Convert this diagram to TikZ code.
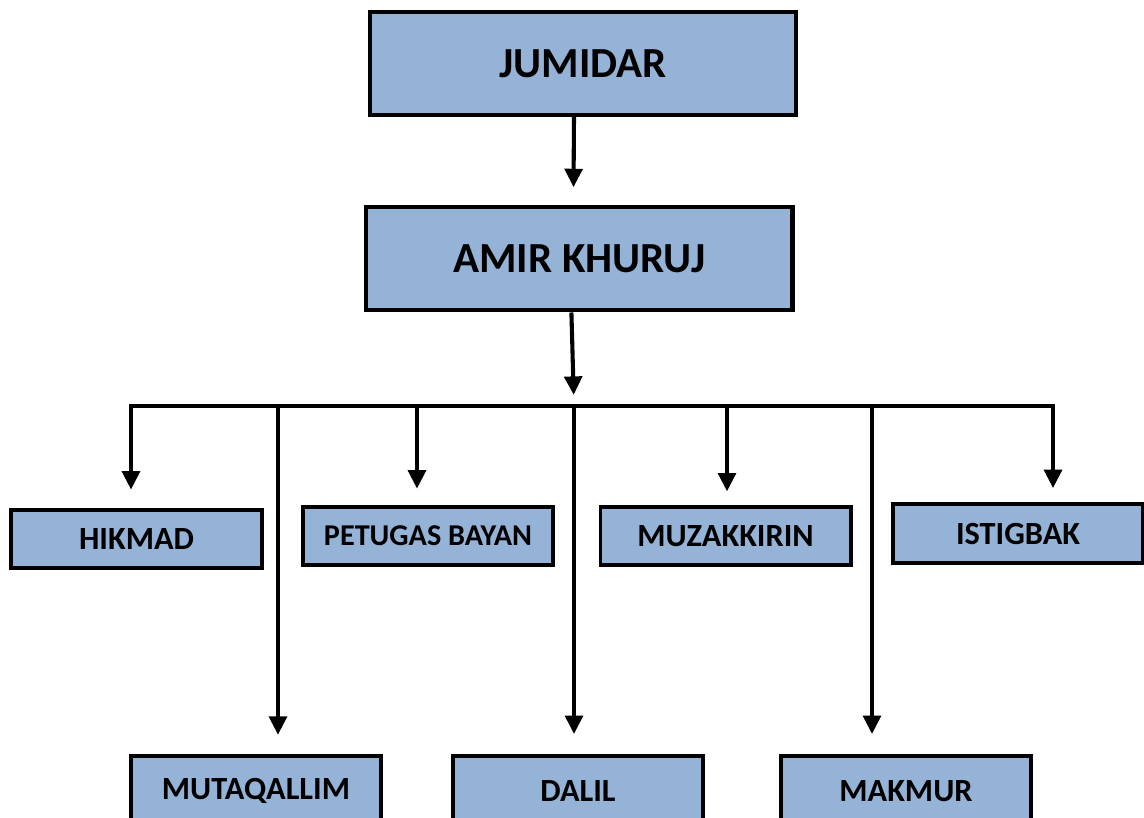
\documentclass[tikz,border=0pt]{standalone}
\usepackage{fontspec}
\setmainfont{Carlito}
\usetikzlibrary{positioning, calc, arrows.meta}
\definecolor{boxblue}{HTML}{95B3D7}
\tikzset{
  % Organisation chart
  headbox/.style = { draw, line width=2.9pt, fill=boxblue, minimum width=10.65cm,
                     minimum height=2.58cm, font=\fontsize{30.5}{34}\selectfont\bfseries },
  unitbox/.style = { draw, line width=2.8pt, fill=boxblue, minimum width=6.25cm,
                     minimum height=1.47cm, font=\fontsize{23}{27}\selectfont\bfseries },
  lowbox/.style  = { unitbox, minimum height=1.75cm },
  orgtip/.tip    = { Triangle[length=4.6mm, width=4.4mm] },
  orgflow/.style = { line width=2.9pt, -{orgtip} },
  orgbar/.style  = { line width=2.9pt }
}
\begin{document}
\begin{tikzpicture}[x=0.025cm, y=-0.025cm]
  \useasboundingbox (0,0) rectangle (1144,817);

  \node[headbox] (jumidar) at (583,63.5) {JUMIDAR};
  \node[headbox, below=2.2cm of jumidar, xshift=-0.09cm] (amir) {AMIR KHURUJ};

  \node[unitbox] (hikmad) at (136.5,539) {HIKMAD};
  \node[unitbox, font=\fontsize{21.5}{25}\selectfont\bfseries] (petugas) at (428,536) {PETUGAS BAYAN};
  \node[unitbox] (muzakkirin) at (725.5,536) {MUZAKKIRIN};
  \node[unitbox] (istigbak) at (1018,533.5) {ISTIGBAK};
  \node[lowbox] (mutaqallim) at (256,791) {MUTAQALLIM};
  \node[lowbox] (dalil) at (578,791) {DALIL};
  \node[lowbox] (makmur) at (906,791) {MAKMUR};

  % branch bar and drop points
  \coordinate (bar) at (574,406);
  \coordinate (dhikmad) at (131,406);
  \coordinate (dmutaqallim) at (278,406);
  \coordinate (dpetugas) at (417,406);
  \coordinate (dmuzakkirin) at (727,406);
  \coordinate (dmakmur) at (872,406);
  \coordinate (distigbak) at (1053,406);

  \draw[orgflow, shorten >=0.45cm] ($(jumidar.south)+(-9,0)$) -- ($(amir.north)+(-6,0)$);
  \draw[orgflow, shorten >=0.28cm] ($(amir.south)+(-8,0)$) -- (bar);

  \draw[orgbar, {orgtip}-{orgtip}, shorten <=0.45cm, shorten >=0.35cm]
    (dhikmad |- hikmad.north) -- (dhikmad) -- (distigbak) -- (distigbak |- istigbak.north);

  \draw[orgflow, shorten >=0.4cm] (dpetugas) -- (dpetugas |- petugas.north);
  \draw[orgflow, shorten >=0.33cm] (dmuzakkirin) -- (dmuzakkirin |- muzakkirin.north);
  \draw[orgflow, shorten >=0.48cm] (dmutaqallim) -- (dmutaqallim |- mutaqallim.north);
  \draw[orgflow, shorten >=0.5cm] (bar) -- (bar |- dalil.north);
  \draw[orgflow, shorten >=0.5cm] (dmakmur) -- (dmakmur |- makmur.north);

\end{tikzpicture}
\end{document}
